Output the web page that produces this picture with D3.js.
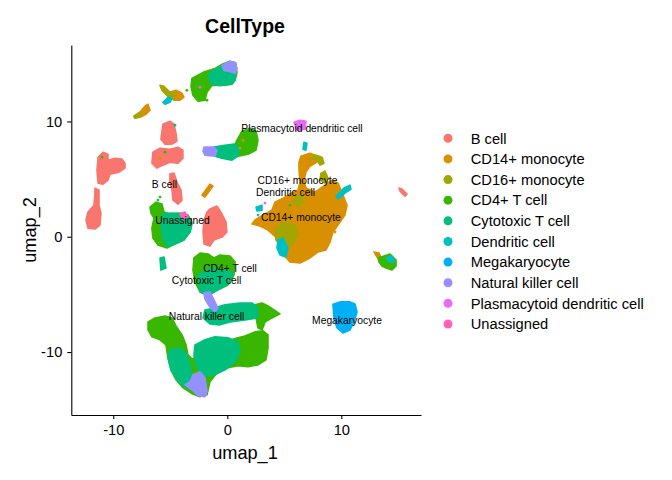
<!DOCTYPE html>
<html>
<head>
<meta charset="utf-8">
<script src="https://cdn.jsdelivr.net/npm/d3@7"></script>
<style>
  body { margin: 0; background: #fff; }
  svg { display: block; font-family: "Liberation Sans", Arial, sans-serif; }
</style>
</head>
<body>
<div id="chart"></div>
<script>
// cell types, in legend order
const cellTypes = ['B cell', 'CD14+ monocyte', 'CD16+ monocyte', 'CD4+ T cell', 'Cytotoxic T cell',
    'Dendritic cell', 'Megakaryocyte', 'Natural killer cell', 'Plasmacytoid dendritic cell', 'Unassigned'];

// cluster outlines (umap_1, umap_2)
const bCellShapes = [
    [[-11.33,6.9],[-10.9,7.33],[-10.46,7.16],[-10.46,6.63],[-9.85,6.81],[-9.24,6.73],[-8.97,6.38],[-8.97,5.95],[-9.5,5.6],[-10.29,5.43],[-10.46,4.91],[-10.9,4.56],[-11.33,4.65],[-11.43,5.77]],
    [[-11.6,4.22],[-11.25,4.04],[-11.25,2.74],[-11.08,2.05],[-11.17,1.01],[-11.6,0.67],[-12.22,0.75],[-12.39,1.45],[-12.22,2.14],[-11.69,2.74],[-11.61,3.61]],
    [[-5.64,9.76],[-5.03,10.02],[-4.68,9.76],[-4.5,8.99],[-4.41,8.29],[-4.85,8.03],[-5.46,8.03],[-5.82,8.46],[-5.73,9.15]],
    [[-6.52,7.33],[-5.9,7.68],[-5.03,7.59],[-4.32,7.77],[-3.89,7.51],[-3.89,6.81],[-4.32,6.38],[-5.03,6.47],[-5.64,6.21],[-6.17,5.95],[-6.61,6.38]],
    [[-5.03,5.43],[-4.68,5.52],[-4.41,4.74],[-4.06,4.04],[-3.97,3.18],[-4.32,2.83],[-4.76,3.18],[-4.85,4.04],[-5.03,4.74]],
    [[-1.52,2.4],[-0.9,2.66],[-0.46,1.97],[-0.11,1.27],[-0.03,0.41],[-0.46,-0.03],[-1.17,-0.29],[-1.52,-0.81],[-2.04,-0.63],[-2.13,0.41],[-2.04,1.45],[-1.78,2.14]],
    [[15.06,4.22],[15.32,4.13],[15.76,3.7],[15.59,3.52],[15.15,3.96]]
];
const cd14Shapes = [
    [[6.46,6.99],[7.25,7.25],[7.96,6.99],[7.87,6.47],[7.25,6.12],[6.9,5.6],[6.73,4.91],[6.9,4.22],[7.69,3.87],[8.57,4.48],[9.18,4.91],[9.71,4.65],[10.15,3.61],[10.5,2.74],[10.32,1.88],[9.71,1.01],[9.27,0.41],[9.01,-0.46],[8.66,-1.15],[7.96,-1.32],[7.25,-1.84],[6.38,-2.28],[5.5,-2.19],[4.97,-1.58],[4.62,-0.72],[4.27,-0.03],[3.57,0.58],[2.87,0.93],[2.17,1.1],[2.43,1.45],[3.31,1.97],[3.92,2.31],[4.18,3.0],[4.89,3.35],[5.5,3.7],[6.2,4.04],[6.38,4.74],[6.29,5.77],[6.29,6.47]],
    [[-5.03,12.53],[-4.5,12.7],[-3.97,12.44],[-3.8,12.1],[-4.15,11.84],[-4.68,11.84],[-5.03,12.1]],
    [[-8.18,10.45],[-7.66,10.8],[-7.22,11.32],[-6.96,11.49],[-6.78,10.97],[-7.13,10.62],[-7.66,10.36],[-8.1,10.28]],
    [[-2.22,3.61],[-1.52,4.56],[-1.25,4.39],[-1.96,3.44]],
    [[12.87,-1.32],[13.31,-1.41],[13.48,-1.84],[13.13,-1.76]]
];
const cd16Shapes = [
    [[-5.9,13.13],[-5.55,13.05],[-5.03,12.53],[-4.5,12.44],[-4.68,12.1],[-5.2,12.18],[-5.73,12.7]],
    [[-8.18,10.45],[-7.66,10.8],[-7.5,10.5],[-8.1,10.28]],
    [[7.25,6.81],[7.78,7.07],[8.31,6.9],[8.48,6.38],[8.13,6.21],[7.87,6.64]],
    [[8.22,5.51],[8.57,5.69],[8.83,5.08],[8.57,4.65],[8.13,4.91]],
    [[5.94,3.52],[6.55,3.61],[6.73,2.92],[6.2,2.66],[5.76,3.0]],
    [[4.18,0.75],[5.06,1.27],[5.94,1.01],[6.2,0.15],[5.68,-0.72],[4.89,-0.98],[4.27,-0.29]]
];
const cd4Shapes = [
    [[-3.1,13.73],[-2.13,14.26],[-1.08,14.6],[-0.46,14.95],[0.24,15.21],[0.76,15.04],[0.85,14.26],[0.68,13.57],[0.41,13.22],[-0.46,13.13],[-1.34,13.13],[-1.78,12.53],[-1.96,11.84],[-2.57,11.75],[-3.01,12.27],[-3.18,13.05]],
    [[0.85,8.37],[1.29,9.15],[1.99,9.41],[2.52,9.15],[2.69,8.37],[2.52,7.51],[1.82,7.16],[0.94,6.99],[0.5,7.33],[0.59,7.85]],
    [[-6.78,2.57],[-6.25,3.0],[-5.73,2.83],[-5.55,2.14],[-5.03,1.97],[-4.15,2.05],[-3.45,1.88],[-3.1,1.27],[-3.27,0.41],[-3.8,-0.29],[-4.59,-0.63],[-5.29,-0.98],[-6.08,-0.72],[-6.52,-0.11],[-6.61,0.75],[-6.43,1.62],[-6.69,2.05]],
    [[-2.92,-1.84],[-2.39,-1.41],[-1.69,-1.5],[-1.17,-1.84],[-0.64,-1.58],[0.24,-1.67],[0.68,-2.19],[0.59,-3.32],[0.06,-4.18],[-0.82,-4.61],[-1.69,-5.05],[-2.39,-4.79],[-2.83,-3.92],[-3.01,-2.88]],
    [[13.22,-1.84],[13.75,-1.67],[14.27,-1.5],[14.8,-2.02],[14.8,-2.54],[14.45,-2.88],[13.92,-2.71],[13.57,-2.54],[13.31,-2.19]],
    [[2.43,-5.91],[3.05,-5.74],[3.57,-6.0],[4.1,-6.35],[4.62,-6.69],[3.92,-7.04],[3.31,-7.39],[3.05,-8.08],[2.69,-7.9],[2.52,-7.04]],
    [[-6.95,-7.39],[-6.34,-7.04],[-5.46,-6.87],[-4.85,-7.04],[-4.5,-7.73],[-3.97,-8.51],[-3.62,-9.38],[-3.45,-10.24],[-3.01,-10.68],[-2.66,-9.98],[-1.96,-9.38],[-1.34,-8.94],[-0.64,-8.77],[0.06,-9.03],[0.94,-8.77],[1.55,-8.6],[2.43,-8.25],[3.13,-8.16],[3.57,-8.51],[3.57,-9.64],[3.39,-10.68],[2.69,-11.11],[1.82,-11.28],[0.94,-11.19],[0.06,-11.36],[-0.82,-11.71],[-1.52,-12.58],[-1.78,-13.7],[-2.39,-13.87],[-3.1,-13.61],[-3.89,-13.09],[-4.5,-12.4],[-4.94,-11.54],[-5.2,-10.5],[-5.38,-9.38],[-5.9,-8.94],[-6.61,-8.68],[-6.95,-8.08]]
];
const cytoShapes = [
    [[-1.52,14.26],[-0.64,14.78],[0.24,14.69],[0.76,14.26],[0.68,13.57],[0.32,13.22],[-0.64,13.13],[-1.34,13.22],[-1.69,13.73]],
    [[-1.17,7.77],[-0.2,7.94],[0.59,8.03],[1.11,7.68],[0.94,6.99],[0.41,6.64],[-0.46,6.81],[-1.08,6.99]],
    [[-5.73,1.97],[-4.85,2.05],[-3.97,1.97],[-3.36,1.71],[-3.1,1.1],[-3.27,0.41],[-3.8,-0.29],[-4.59,-0.63],[-5.29,-0.89],[-5.64,-0.11],[-5.82,0.93]],
    [[-2.57,-3.32],[-1.52,-2.71],[-0.46,-2.88],[0.5,-3.06],[0.24,-4.01],[-0.82,-4.61],[-1.69,-5.13],[-2.39,-4.79]],
    [[-5.9,-1.84],[-5.55,-1.76],[-5.38,-2.71],[-5.82,-2.88]],
    [[-1.96,-6.35],[-1.08,-6.17],[-0.2,-5.91],[1.11,-5.74],[2.17,-5.74],[2.69,-6.17],[2.61,-7.04],[1.55,-7.21],[0.24,-7.39],[-0.64,-7.64],[-1.52,-7.56],[-2.13,-7.04]],
    [[-5.03,-9.81],[-4.15,-9.64],[-3.54,-10.24],[-3.27,-11.11],[-3.1,-12.23],[-2.83,-13.09],[-3.71,-13.09],[-4.41,-12.4],[-4.94,-11.54],[-5.2,-10.5]],
    [[-2.83,-9.38],[-1.96,-8.94],[-1.08,-8.68],[0.06,-8.77],[0.94,-9.12],[1.11,-9.98],[0.68,-10.85],[-0.2,-11.54],[-1.08,-11.97],[-1.96,-12.06],[-2.66,-11.37],[-2.92,-10.24]]
];
const dcShapes = [
    [[-5.64,11.66],[-5.2,12.1],[-4.85,12.01],[-5.03,11.66],[-5.46,11.49]],
    [[6.73,8.2],[6.99,8.11],[6.9,7.51],[6.64,7.59]],
    [[4.45,-0.29],[4.89,-0.11],[5.32,-0.98],[5.15,-1.76],[4.62,-1.58],[4.36,-0.98]],
    [[9.54,3.52],[10.24,4.22],[10.76,4.48],[10.85,4.13],[10.32,3.78],[9.71,3.26]],
    [[2.52,2.56],[3.05,2.74],[3.05,2.31],[2.61,2.23]],
    [[13.92,-1.84],[14.45,-1.67],[14.71,-2.19],[14.27,-2.19]]
];
const megaShapes = [
    [[9.27,-5.86],[9.89,-5.65],[10.76,-5.65],[11.2,-5.83],[11.38,-6.52],[11.11,-7.39],[10.76,-8.08],[10.15,-8.34],[9.62,-7.9],[9.36,-7.04]]
];
const nkShapes = [
    [[-0.46,14.86],[0.15,15.21],[0.68,15.12],[0.85,14.6],[0.68,14.17],[0.15,14.35],[-0.29,14.43]],
    [[-2.04,7.77],[-1.17,7.77],[-0.9,7.51],[-1.08,6.99],[-1.96,7.07],[-2.13,7.42]],
    [[-2.04,-4.87],[-1.52,-4.79],[-1.17,-5.48],[-0.82,-6.17],[-1.08,-6.52],[-1.61,-6.0],[-1.96,-5.39]],
    [[-3.01,-11.97],[-2.39,-11.71],[-1.96,-12.23],[-1.78,-13.44],[-1.96,-13.87],[-2.57,-13.79],[-3.1,-13.27],[-3.71,-12.84],[-3.27,-12.58]]
];
const pdcShapes = [
    [[5.85,9.93],[6.38,10.1],[6.9,10.02],[6.82,9.33],[6.11,9.24]]
];
const unassignedShapes = [
    [[-4.15,1.97],[-3.71,2.14],[-3.45,1.71],[-3.89,1.53]]
];

// single cells lying away from the main bodies
const strayTypes = ['CD4+ T cell', 'CD14+ monocyte', 'CD4+ T cell', 'Cytotoxic T cell', 'Unassigned', 'CD4+ T cell',
    'Cytotoxic T cell', 'CD4+ T cell', 'CD4+ T cell', 'CD14+ monocyte', 'CD14+ monocyte', 'CD14+ monocyte',
    'CD14+ monocyte', 'Dendritic cell', 'CD4+ T cell', 'Unassigned', 'Plasmacytoid dendritic cell'];
const strayU = [-10.99, -5.9, -5.46, -4.59, -4.59, -5.9, -6.08, -1.78, -3.54, 1.38, 1.11, 9.45, 8.57, 2.7, 5.5, 3.31, -2.39];
const strayV = [6.9, 6.81, 7.33, 9.67, 3.78, 3.44, 3.18, 11.84, 12.7, 8.37, 7.68, 0.41, -0.72, 1.88, 2.74, 2.92, 12.96];

// cluster labels
const labelNames = ['Plasmacytoid dendritic cell', 'CD16+ monocyte', 'Dendritic cell', 'CD14+ monocyte', 'B cell',
    'Unassigned', 'CD4+ T cell', 'Cytotoxic T cell', 'Natural killer cell', 'Megakaryocyte'];
const labelU = [6.55, 6.16, 5.11, 6.46, -5.51, -3.93, 0.24, -1.82, -1.82, 10.5];
const labelV = [9.41, 4.9, 3.88, 1.71, 4.56, 1.45, -2.74, -3.74, -6.87, -7.21];

const xTicks = [-10, 0, 10];
const yTicks = [-10, 0, 10];

const color = d3.scaleOrdinal()
    .domain(cellTypes)
    .range(['#F8766D', '#D89000', '#A3A500', '#39B600', '#00BF7D', '#00BFC4', '#00B0F6', '#9590FF', '#E76BF3', '#FF62BC']);

const shapesByType = [bCellShapes, cd14Shapes, cd16Shapes, cd4Shapes, cytoShapes,
    dcShapes, megaShapes, nkShapes, pdcShapes, unassignedShapes];

const width = 672, height = 480;

const x = d3.scaleLinear().domain([-13.68, 16.99]).range([71.3, 421]);
const y = d3.scaleLinear().domain([-15.46, 16.63]).range([415, 45]);

const svg = d3.select('#chart').append('svg')
    .attr('width', width)
    .attr('height', height);

const outline = d3.line()
    .x(d => x(d[0]))
    .y(d => y(d[1]))
    .curve(d3.curveLinearClosed);

// cluster bodies, drawn in legend order so later types sit on top
const cells = svg.append('g');
cellTypes.forEach((type, i) => {
    cells.selectAll(null)
        .data(shapesByType[i])
        .enter().append('path')
        .attr('d', outline)
        .attr('fill', color(type))
        .attr('stroke', color(type))
        .attr('stroke-width', 1.6)
        .attr('stroke-linejoin', 'round');
});

cells.selectAll('circle.stray')
    .data(strayTypes)
    .enter().append('circle')
    .attr('class', 'stray')
    .attr('cx', (d, i) => x(strayU[i]))
    .attr('cy', (d, i) => y(strayV[i]))
    .attr('r', 1.4)
    .attr('fill', d => color(d));

svg.append('g')
    .selectAll('text')
    .data(labelNames)
    .enter().append('text')
    .attr('x', (d, i) => x(labelU[i]))
    .attr('y', (d, i) => y(labelV[i]))
    .attr('dy', '0.36em')
    .attr('text-anchor', 'middle')
    .attr('font-size', 10.3)
    .attr('fill', '#000')
    .text(d => d);

// axes (plain hyphen for negatives, as in the original)
const xAxis = svg.append('g')
    .attr('transform', `translate(0,415)`)
    .call(d3.axisBottom(x).tickValues(xTicks).tickFormat(d => String(d))
        .tickSize(4).tickSizeOuter(0).tickPadding(6));
const yAxis = svg.append('g')
    .attr('transform', `translate(71.3,0)`)
    .call(d3.axisLeft(y).tickValues(yTicks).tickFormat(d => String(d))
        .tickSize(4).tickSizeOuter(0).tickPadding(5));

[xAxis, yAxis].forEach(g => {
    g.selectAll('path, line').attr('stroke', '#000').attr('stroke-width', 1.1);
    g.selectAll('text')
        .attr('fill', '#000')
        .attr('font-size', 14.7)
        .attr('font-family', '"Liberation Sans", Arial, sans-serif');
});

svg.append('text')
    .attr('x', 245)
    .attr('y', 459)
    .attr('text-anchor', 'middle')
    .attr('font-size', 18.2)
    .text('umap_1');

svg.append('text')
    .attr('transform', 'translate(36,230) rotate(-90)')
    .attr('text-anchor', 'middle')
    .attr('font-size', 18.2)
    .text('umap_2');

svg.append('text')
    .attr('x', 245)
    .attr('y', 33)
    .attr('text-anchor', 'middle')
    .attr('font-size', 19.5)
    .attr('font-weight', 'bold')
    .text('CellType');

// legend
const legend = svg.append('g')
    .selectAll('g')
    .data(cellTypes)
    .enter().append('g')
    .attr('transform', (d, i) => `translate(448,${138.3 + i * 20.63})`);

legend.append('circle')
    .attr('r', 4.5)
    .attr('fill', d => color(d));

legend.append('text')
    .attr('x', 22.7)
    .attr('dy', '0.36em')
    .attr('font-size', 14.7)
    .text(d => d);
</script>
</body>
</html>
